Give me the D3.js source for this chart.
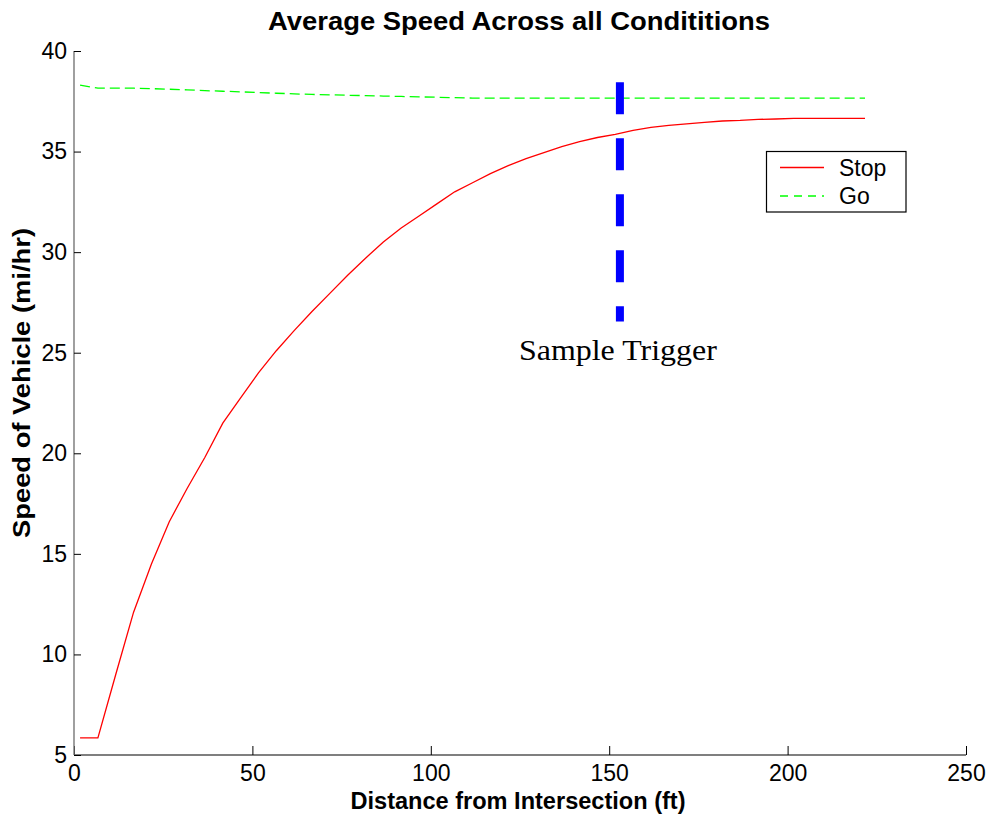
<!DOCTYPE html>
<html>
<head>
<meta charset="utf-8">
<script src="https://cdn.jsdelivr.net/npm/d3@7"></script>
<style>
  html, body { margin: 0; padding: 0; background: #fff; }
  svg { display: block; }
</style>
</head>
<body>
<svg id="chart" width="988" height="817"></svg>
<script>
// ---- data ----
const distances = [1.7, 6.7, 11.7, 16.7, 21.7, 26.7, 31.7, 36.7, 41.7, 46.7,
  51.7, 56.7, 61.7, 66.7, 71.7, 76.7, 81.7, 86.7, 91.7, 96.7,
  101.7, 106.7, 111.7, 116.7, 121.7, 126.7, 131.7, 136.7, 141.7, 146.7,
  151.7, 156.7, 161.7, 166.7, 171.7, 176.7, 181.7, 186.7, 191.7, 196.7,
  201.7, 206.7, 211.7, 216.7, 221.7];
const stopSpeed = [5.85, 5.85, 9.0, 12.1, 14.5, 16.6, 18.25, 19.8, 21.5, 22.75,
  24.0, 25.1, 26.1, 27.05, 27.95, 28.85, 29.7, 30.5, 31.2, 31.8,
  32.4, 33.0, 33.45, 33.9, 34.3, 34.65, 34.95, 35.25, 35.5, 35.7,
  35.85, 36.05, 36.2, 36.3, 36.38, 36.45, 36.52, 36.55, 36.6, 36.62,
  36.65, 36.65, 36.65, 36.65, 36.65];
const goSpeed = [38.3, 38.15, 38.15, 38.15, 38.13, 38.1, 38.07, 38.03, 38.0, 37.97,
  37.93, 37.9, 37.87, 37.84, 37.82, 37.8, 37.78, 37.76, 37.74, 37.72,
  37.7, 37.68, 37.66, 37.66, 37.66, 37.66, 37.66, 37.66, 37.66, 37.66,
  37.66, 37.66, 37.66, 37.66, 37.66, 37.66, 37.66, 37.66, 37.66, 37.66,
  37.66, 37.66, 37.66, 37.66, 37.66];
const triggerX = 153;
const triggerRange = [26.55, 38.45];
const xTicks = [0, 50, 100, 150, 200, 250];
const yTicks = [5, 10, 15, 20, 25, 30, 35, 40];
const seriesNames = ["Stop", "Go"];
const titleText = "Average Speed Across all Condititions";
const xLabelText = "Distance from Intersection (ft)";
const yLabelText = "Speed of Vehicle (mi/hr)";
const annotationText = "Sample Trigger";
const annotationPos = [124.7, 24.64];

// ---- layout ----
const SANS = "Arial, 'Liberation Sans', sans-serif";
const SERIF = "'Liberation Serif', 'Times New Roman', serif";
const svg = d3.select("#chart");
const x = d3.scaleLinear().domain([0, 250]).range([74, 966]);
const y = d3.scaleLinear().domain([5, 40]).range([755, 51]);

// axes
const xAxis = d3.axisBottom(x).tickValues(xTicks).tickSize(-9).tickPadding(10).tickFormat(d3.format("d"));
const gx = svg.append("g").attr("transform", `translate(0,${y(5)})`).call(xAxis);
gx.attr("font-family", null).attr("font-size", null);
gx.select(".domain").attr("stroke", "#000").attr("stroke-width", 1.2).attr("d", `M${x(0)},0H${x(250)}`);
gx.selectAll(".tick line").attr("stroke", "#000");
gx.selectAll(".tick text").style("font-size", "23px").style("font-family", SANS).attr("fill", "#000");

const yAxis = d3.axisLeft(y).tickValues(yTicks).tickSize(-7).tickPadding(7).tickFormat(d3.format("d"));
const gy = svg.append("g").attr("transform", `translate(${x(0)},0)`).call(yAxis);
gy.select(".domain").attr("stroke", "#777").attr("stroke-width", 1.4).attr("d", `M0,${y(5)}V${y(40)}`);
gy.selectAll(".tick line").attr("stroke", "#000");
gy.selectAll(".tick text").style("font-size", "23px").style("font-family", SANS).attr("fill", "#000");

// lines
const line = d3.line().x((d, i) => x(distances[i])).y(d => y(d));
svg.append("path").datum(stopSpeed).attr("d", line)
  .attr("fill", "none").attr("stroke", "#ff0000").attr("stroke-width", 1.3);
svg.append("path").datum(goSpeed).attr("d", line)
  .attr("fill", "none").attr("stroke", "#00ff00").attr("stroke-width", 1.3)
  .attr("stroke-dasharray", "10,5");

// trigger
svg.append("line")
  .attr("x1", x(triggerX)).attr("x2", x(triggerX))
  .attr("y1", y(triggerRange[1])).attr("y2", y(triggerRange[0]))
  .attr("stroke", "#0000ff").attr("stroke-width", 8)
  .attr("stroke-dasharray", "32,24");

svg.append("text")
  .attr("x", x(annotationPos[0])).attr("y", y(annotationPos[1]))
  .style("font-family", SERIF).style("font-size", "30px").attr("fill", "#000")
  .attr("textLength", 198).attr("lengthAdjust", "spacingAndGlyphs")
  .text(annotationText);

// title & labels
svg.append("text").attr("x", 519).attr("y", 30).attr("text-anchor", "middle")
  .style("font-family", SANS).style("font-size", "26px").style("font-weight", "bold")
  .attr("textLength", 502).attr("lengthAdjust", "spacingAndGlyphs")
  .attr("fill", "#000").text(titleText);
svg.append("text").attr("x", 518).attr("y", 809).attr("text-anchor", "middle")
  .style("font-family", SANS).style("font-size", "23px").style("font-weight", "bold")
  .attr("textLength", 335).attr("lengthAdjust", "spacingAndGlyphs")
  .attr("fill", "#000").text(xLabelText);
svg.append("text").attr("transform", "translate(30,383) rotate(-90)").attr("text-anchor", "middle")
  .style("font-family", SANS).style("font-size", "23px").style("font-weight", "bold")
  .attr("textLength", 310).attr("lengthAdjust", "spacingAndGlyphs")
  .attr("fill", "#000").text(yLabelText);

// legend
const lg = svg.append("g");
lg.append("rect").attr("x", 766.5).attr("y", 151.5).attr("width", 139.5).attr("height", 60.5)
  .attr("fill", "#fff").attr("stroke", "#000").attr("stroke-width", 1.2);
const legendStyles = [{c: "#ff0000", dash: null}, {c: "#00ff00", dash: "8,6"}];
seriesNames.forEach((name, i) => {
  const yy = 167.5 + i * 28.5;
  const l = lg.append("line").attr("x1", 780).attr("x2", 824).attr("y1", yy).attr("y2", yy)
    .attr("stroke", legendStyles[i].c).attr("stroke-width", 1.3);
  if (legendStyles[i].dash) l.attr("stroke-dasharray", legendStyles[i].dash);
  lg.append("text").attr("x", 839).attr("y", yy).attr("dy", "0.35em")
    .style("font-family", SANS).style("font-size", "23px").attr("fill", "#000").text(name);
});
</script>
</body>
</html>
